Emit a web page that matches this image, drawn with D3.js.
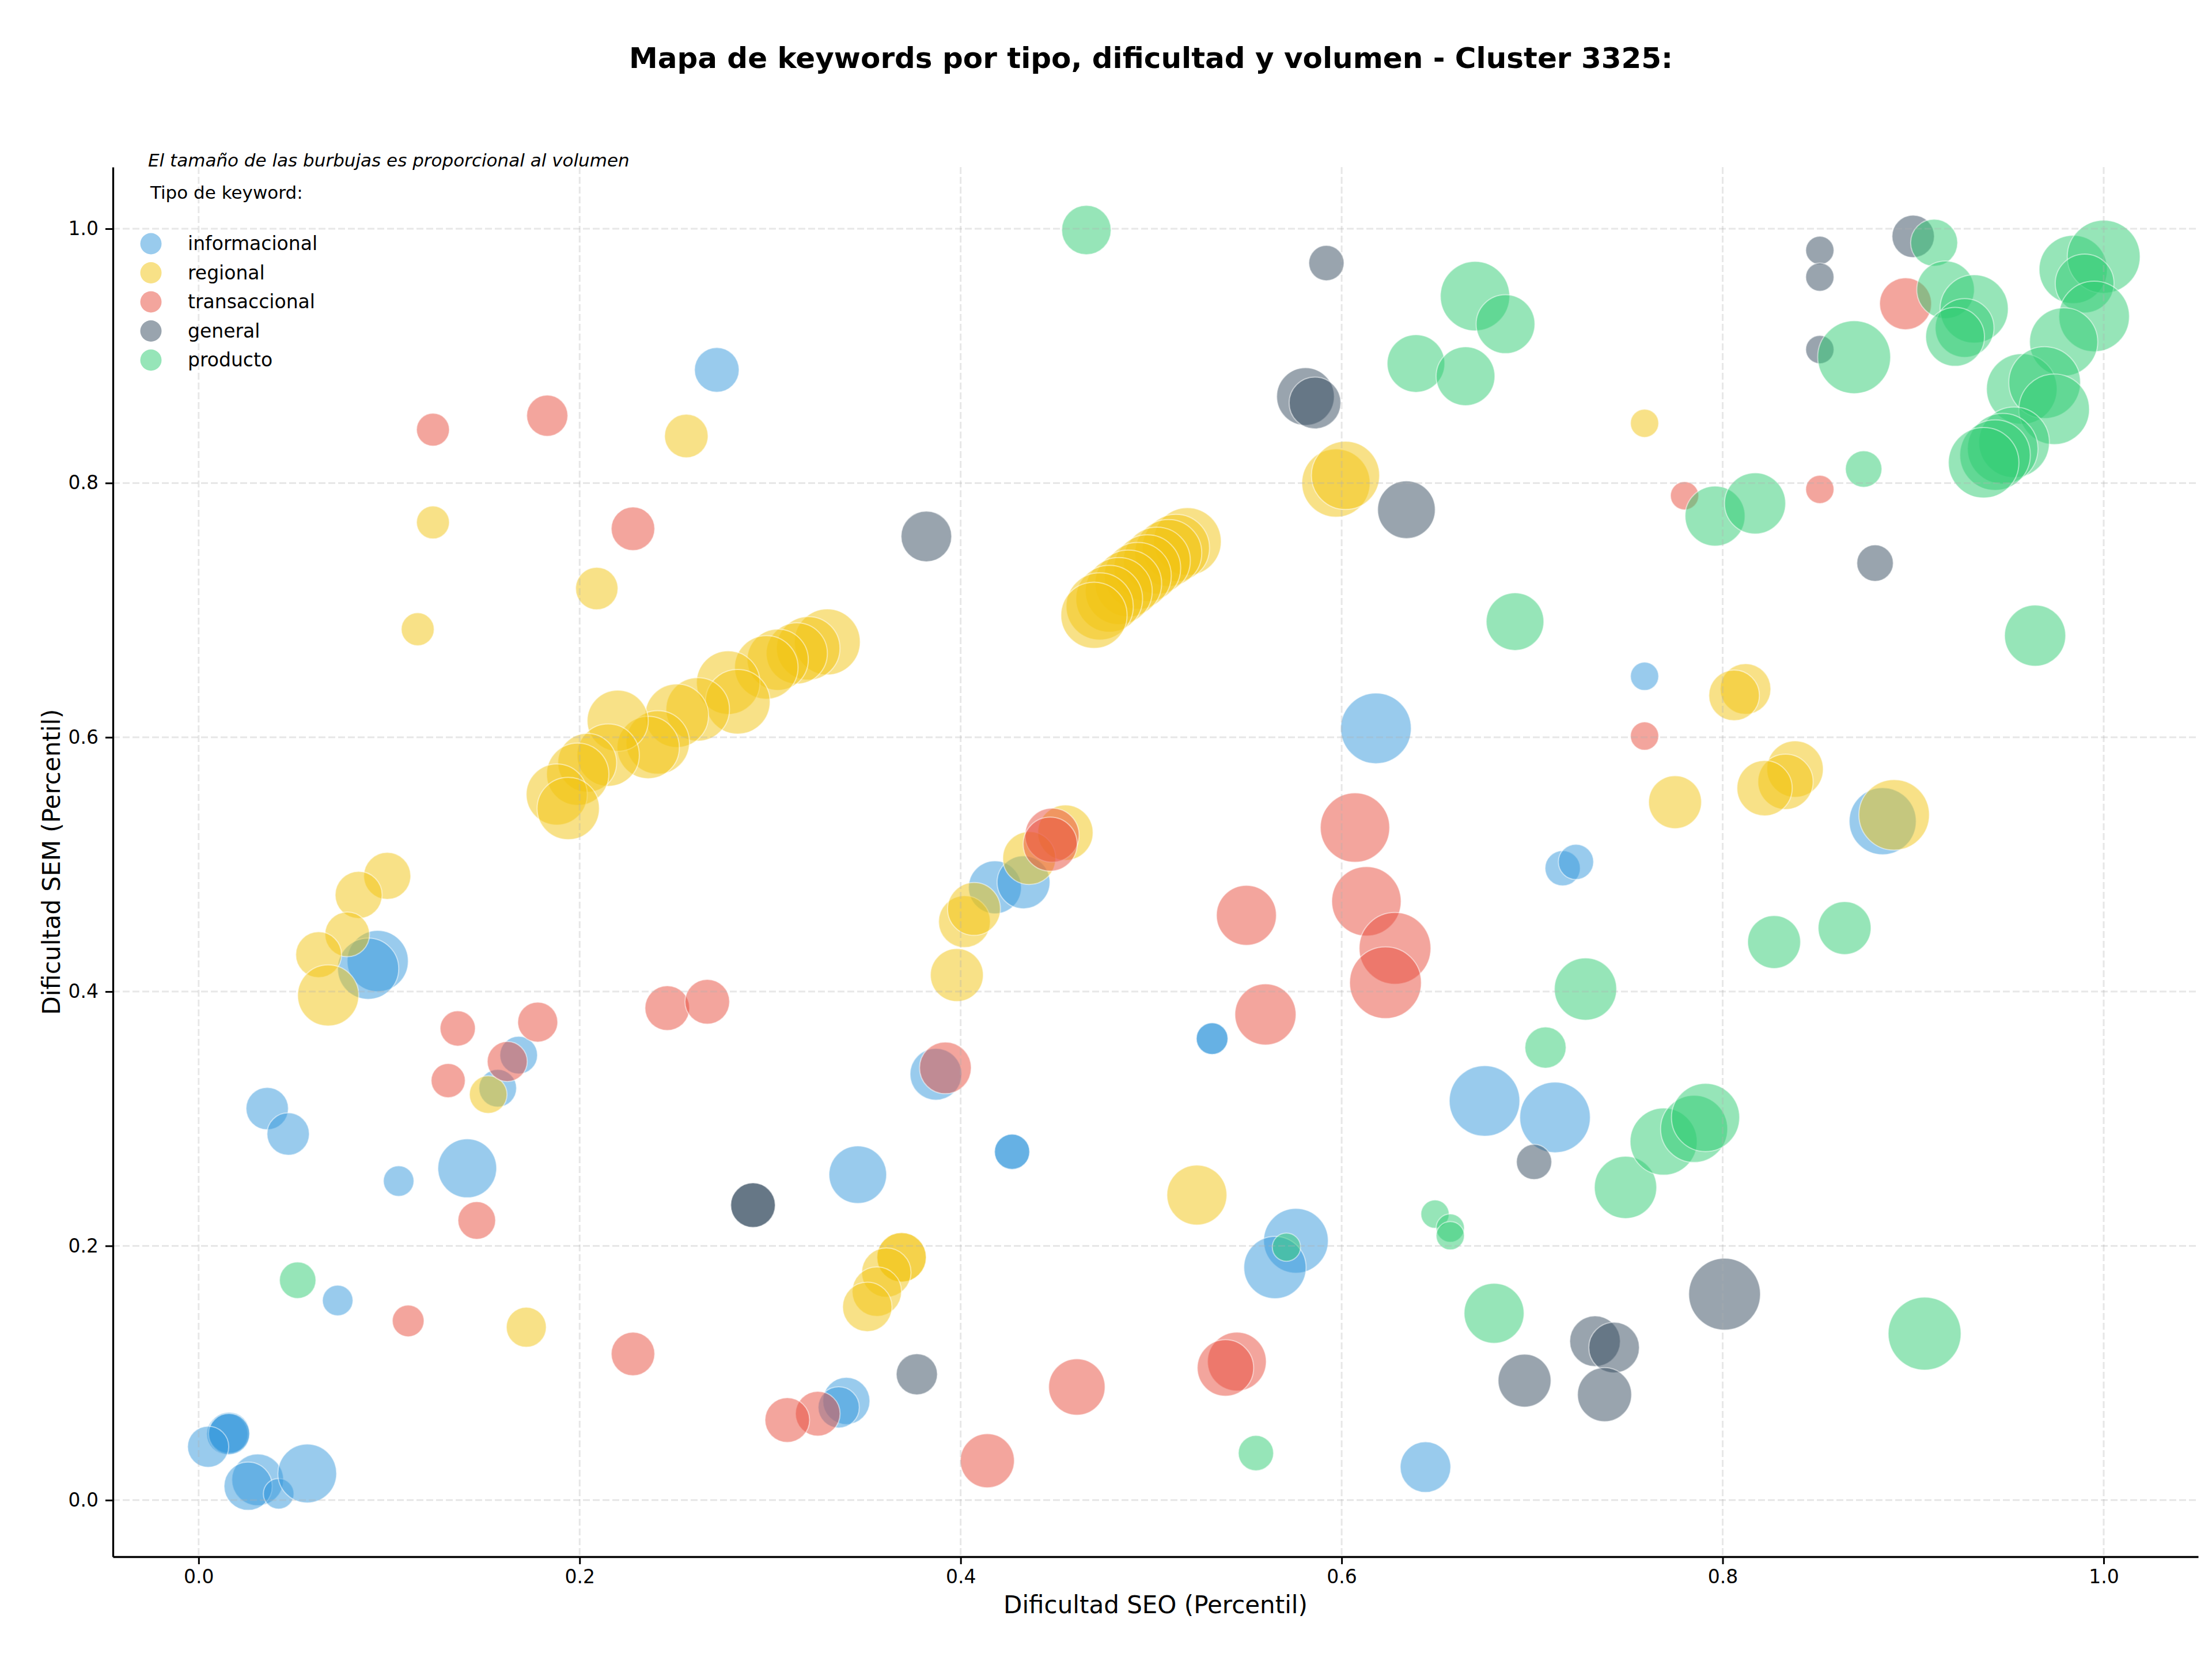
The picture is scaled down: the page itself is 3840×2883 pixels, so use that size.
<!DOCTYPE html>
<html>
<head>
<meta charset="utf-8">
<script src="https://cdn.jsdelivr.net/npm/d3@7"></script>
<style>
  body { margin: 0; background: #fff; }
  text { font-family: "DejaVu Sans", sans-serif; fill: #000; }
</style>
</head>
<body>
<script>
const categories = ["informacional", "regional", "transaccional", "general", "producto"];
const colors = ["#3498db", "#f1c40f", "#e74c3c", "#34495e", "#2ecc71"];
const xTicks = [0, 0.2, 0.4, 0.6, 0.8, 1.0];
const yTicks = [0, 0.2, 0.4, 0.6, 0.8, 1.0];

// [dificultad SEO, dificultad SEM, volumen]
const informacional = [
  [0.272, 0.889, 600], [0.618, 0.607, 1498], [0.387, 0.335, 805], [0.346, 0.256, 999],
  [0.427, 0.274, 374], [0.427, 0.274, 374], [0.532, 0.363, 303], [0.532, 0.363, 303],
  [0.576, 0.204, 1258], [0.565, 0.183, 1168], [0.644, 0.026, 770], [0.675, 0.314, 1498],
  [0.712, 0.301, 1498], [0.716, 0.497, 374], [0.723, 0.502, 374], [0.759, 0.648, 240],
  [0.884, 0.534, 1352], [0.418, 0.482, 842], [0.433, 0.486, 842], [0.094, 0.424, 1125],
  [0.089, 0.418, 1125], [0.168, 0.350, 426], [0.157, 0.324, 426], [0.036, 0.308, 540],
  [0.047, 0.288, 540], [0.105, 0.251, 281], [0.141, 0.261, 1040], [0.073, 0.157, 281],
  [0.015, 0.052, 510], [0.016, 0.053, 510], [0.016, 0.052, 510], [0.005, 0.042, 510],
  [0.031, 0.016, 805], [0.026, 0.011, 700], [0.042, 0.005, 281], [0.057, 0.021, 1040],
  [0.340, 0.078, 666], [0.336, 0.073, 510]
];

const regional = [
  [0.256, 0.837, 570], [0.123, 0.769, 326], [0.209, 0.717, 540], [0.115, 0.685, 326],
  [0.330, 0.675, 1305], [0.320, 0.670, 1213], [0.314, 0.666, 1125], [0.304, 0.661, 1125],
  [0.298, 0.655, 1213], [0.278, 0.643, 1213], [0.283, 0.628, 1258], [0.262, 0.622, 1213],
  [0.251, 0.617, 1213], [0.241, 0.596, 1213], [0.236, 0.592, 1168], [0.220, 0.613, 1125],
  [0.215, 0.586, 1168], [0.204, 0.580, 1040], [0.199, 0.571, 1168], [0.188, 0.555, 1125],
  [0.194, 0.544, 1168],
  [0.519, 0.754, 1380], [0.513, 0.749, 1360], [0.509, 0.745, 1350], [0.503, 0.739, 1350],
  [0.498, 0.733, 1340], [0.493, 0.727, 1350], [0.488, 0.721, 1340], [0.483, 0.715, 1350],
  [0.478, 0.709, 1340], [0.473, 0.703, 1360], [0.470, 0.696, 1320],
  [0.597, 0.800, 1400], [0.602, 0.806, 1400], [0.759, 0.847, 240], [0.812, 0.638, 770],
  [0.806, 0.633, 770], [0.775, 0.549, 842], [0.838, 0.575, 958], [0.833, 0.565, 919],
  [0.822, 0.560, 919], [0.890, 0.539, 1498], [0.455, 0.525, 919], [0.436, 0.505, 842],
  [0.398, 0.413, 842], [0.402, 0.455, 805], [0.407, 0.465, 842], [0.099, 0.491, 666],
  [0.084, 0.476, 666], [0.078, 0.445, 600], [0.063, 0.429, 633], [0.068, 0.397, 1125],
  [0.152, 0.319, 426], [0.172, 0.136, 481], [0.524, 0.240, 1082], [0.369, 0.191, 734],
  [0.369, 0.191, 734], [0.361, 0.179, 734], [0.356, 0.164, 734], [0.351, 0.152, 734]
];

const transaccional = [
  [0.183, 0.853, 510], [0.123, 0.842, 326], [0.228, 0.764, 570], [0.607, 0.529, 1448],
  [0.448, 0.523, 880], [0.447, 0.516, 880], [0.392, 0.340, 805], [0.325, 0.068, 600],
  [0.309, 0.063, 600], [0.461, 0.089, 958], [0.414, 0.031, 880], [0.550, 0.460, 1082],
  [0.560, 0.382, 1125], [0.613, 0.471, 1448], [0.628, 0.434, 1548], [0.623, 0.407, 1548],
  [0.545, 0.109, 1040], [0.539, 0.104, 958], [0.136, 0.371, 374], [0.178, 0.376, 481],
  [0.246, 0.387, 600], [0.267, 0.392, 600], [0.162, 0.345, 481], [0.131, 0.330, 350],
  [0.146, 0.220, 426], [0.110, 0.141, 303], [0.228, 0.115, 570], [0.896, 0.941, 810],
  [0.851, 0.795, 240], [0.780, 0.790, 240], [0.759, 0.601, 240]
];

const general = [
  [0.382, 0.758, 770], [0.592, 0.973, 374], [0.581, 0.868, 999], [0.586, 0.863, 805],
  [0.634, 0.779, 999], [0.291, 0.232, 600], [0.291, 0.232, 600], [0.377, 0.099, 510],
  [0.696, 0.094, 842], [0.701, 0.266, 374], [0.801, 0.162, 1548], [0.733, 0.125, 770],
  [0.743, 0.120, 770], [0.738, 0.083, 880], [0.851, 0.983, 240], [0.851, 0.962, 240],
  [0.900, 0.994, 540], [0.851, 0.905, 240], [0.880, 0.737, 400]
];

const producto = [
  [0.466, 0.999, 734], [0.670, 0.947, 1448], [0.686, 0.925, 1040], [0.639, 0.894, 999],
  [0.665, 0.884, 1040], [0.691, 0.691, 999], [0.571, 0.199, 240], [0.555, 0.037, 374],
  [0.649, 0.225, 240], [0.657, 0.214, 240], [0.657, 0.208, 240], [0.680, 0.147, 1082],
  [0.707, 0.356, 510], [0.728, 0.402, 1168], [0.827, 0.439, 842], [0.864, 0.450, 842],
  [0.749, 0.246, 1168], [0.769, 0.282, 1352], [0.785, 0.292, 1352], [0.791, 0.301, 1400],
  [0.906, 0.131, 1600], [0.052, 0.173, 400], [0.911, 0.989, 666], [0.869, 0.899, 1600],
  [0.917, 0.952, 999], [0.932, 0.937, 1400], [0.927, 0.922, 1040], [0.922, 0.915, 1040],
  [0.984, 0.968, 1400], [1.000, 0.978, 1600], [0.990, 0.957, 1040], [0.995, 0.931, 1498],
  [0.979, 0.911, 1400], [0.957, 0.874, 1498], [0.969, 0.879, 1548], [0.974, 0.858, 1498],
  [0.953, 0.832, 1498], [0.947, 0.827, 1498], [0.943, 0.822, 1498], [0.937, 0.816, 1498],
  [0.874, 0.811, 400], [0.796, 0.774, 1082], [0.817, 0.784, 1125], [0.964, 0.680, 1125]
];

const series = [informacional, regional, transaccional, general, producto];

const width = 3840, height = 2883;
const plot = { left: 196, right: 3816, top: 290, bottom: 2702 };

const x = d3.scaleLinear().domain([-0.045, 1.0496]).range([plot.left, plot.right]);
const y = d3.scaleLinear().domain([-0.0445, 1.0485]).range([plot.bottom, plot.top]);
const r = d3.scaleSqrt().domain([0, 2000]).range([0, 70.7]);

const svg = d3.select("body").append("svg")
  .attr("width", width)
  .attr("height", height)
  .style("background", "#fff");

// bubbles, one group per type (drawn in legend order)
series.forEach((pts, i) => {
  svg.append("g")
    .selectAll("circle")
    .data(pts)
    .join("circle")
      .attr("cx", d => x(d[0]))
      .attr("cy", d => y(d[1]))
      .attr("r", d => r(d[2]))
      .attr("fill", colors[i])
      .attr("fill-opacity", 0.5)
      .attr("stroke", "#fff")
      .attr("stroke-opacity", 0.5)
      .attr("stroke-width", 2);
});

// grid sits above the markers, like matplotlib's default
const grid = svg.append("g")
  .attr("stroke", "#b0b0b0")
  .attr("stroke-opacity", 0.3)
  .attr("stroke-width", 3)
  .attr("stroke-dasharray", "12,5");
grid.selectAll(".gx").data(xTicks).join("line")
  .attr("x1", d => x(d)).attr("x2", d => x(d))
  .attr("y1", plot.top).attr("y2", plot.bottom);
grid.selectAll(".gy").data(yTicks).join("line")
  .attr("y1", d => y(d)).attr("y2", d => y(d))
  .attr("x1", plot.left).attr("x2", plot.right);

// axes
const fmt = d3.format(".1f");
const xAxis = svg.append("g")
  .attr("transform", `translate(0,${plot.bottom})`)
  .call(d3.axisBottom(x).tickValues(xTicks).tickFormat(fmt).tickSize(13).tickSizeOuter(0).tickPadding(10));
const yAxis = svg.append("g")
  .attr("transform", `translate(${plot.left},0)`)
  .call(d3.axisLeft(y).tickValues(yTicks).tickFormat(fmt).tickSize(13).tickSizeOuter(0).tickPadding(12));

[xAxis, yAxis].forEach(a => {
  a.select(".domain").attr("stroke", "#000").attr("stroke-width", 3.3);
  a.selectAll(".tick line").attr("stroke", "#000").attr("stroke-width", 3);
  a.selectAll(".tick text")
    .attr("font-family", "DejaVu Sans")
    .attr("font-size", 33)
    .attr("fill", "#000");
});

svg.append("text")
  .attr("x", (plot.left + plot.right) / 2)
  .attr("y", 2800)
  .attr("text-anchor", "middle")
  .attr("font-size", 42)
  .text("Dificultad SEO (Percentil)");

svg.append("text")
  .attr("transform", `translate(104,${(plot.top + plot.bottom) / 2}) rotate(-90)`)
  .attr("text-anchor", "middle")
  .attr("font-size", 42)
  .text("Dificultad SEM (Percentil)");

svg.append("text")
  .attr("x", 1998)
  .attr("y", 118)
  .attr("text-anchor", "middle")
  .attr("font-size", 50)
  .attr("font-weight", "bold")
  .text("Mapa de keywords por tipo, dificultad y volumen - Cluster 3325:");

svg.append("text")
  .attr("x", 257)
  .attr("y", 289)
  .attr("font-size", 31)
  .attr("font-style", "italic")
  .text("El tamaño de las burbujas es proporcional al volumen");

// legend
const legend = svg.append("g");
legend.append("text")
  .attr("x", 261)
  .attr("y", 345)
  .attr("font-size", 31)
  .text("Tipo de keyword:");

const items = legend.selectAll(".item")
  .data(categories)
  .join("g")
    .attr("transform", (d, i) => `translate(262,${423 + i * 50.5})`);
items.append("circle")
  .attr("r", 18.5)
  .attr("fill", (d, i) => colors[i])
  .attr("fill-opacity", 0.5);
items.append("text")
  .attr("x", 64)
  .attr("y", 11)
  .attr("font-size", 33)
  .text(d => d);
</script>
</body>
</html>
